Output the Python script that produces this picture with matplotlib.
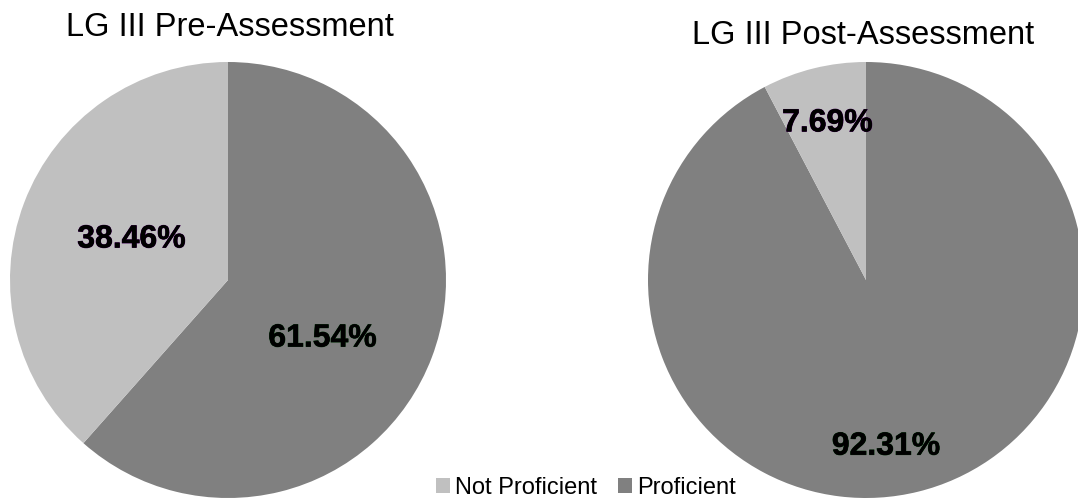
import numpy as np
import matplotlib.pyplot as plt
import matplotlib.patheffects as pe

# Data
categories = ["Proficient", "Not Proficient"]
pre_values = [61.54, 38.46]
post_values = [92.31, 7.69]
titles = ["LG III Pre-Assessment", "LG III Post-Assessment"]
legend_labels = ["Not Proficient", "Proficient"]

colors = ["#808080", "#C0C0C0"]
outline = ["#0B3D12", "#45005A"]

plt.rcParams['font.family'] = ['Liberation Sans', 'DejaVu Sans']

fig = plt.figure(figsize=(10.78, 5.0), dpi=100)
W, H = 1078, 500

# pie axes placed in pixel units (left, bottom of square box)
ax_pre = fig.add_axes([10 / W, 2 / H, 436 / W, 436 / H])
ax_post = fig.add_axes([648 / W, 2 / H, 436 / W, 436 / H])

# label placement: (radius fraction, angle shift in degrees) per wedge
label_place = {
    "pre": [(0.51, -11), (0.48, -2)],
    "post": [(0.77, -7), (0.74, 0)],
}

wedge_sets = []
for key, ax, vals in [("pre", ax_pre, pre_values), ("post", ax_post, post_values)]:
    wedges, texts, autotexts = ax.pie(
        vals, colors=colors, startangle=90, counterclock=False,
        autopct=lambda p: "%.2f%%" % p,
        wedgeprops=dict(linewidth=0), radius=1.0)
    for wdg, t, oc, (rf, dang) in zip(wedges, autotexts, outline, label_place[key]):
        ang = np.deg2rad((wdg.theta1 + wdg.theta2) / 2 + dang)
        t.set_position((rf * np.cos(ang), rf * np.sin(ang)))
        t.set_fontsize(23)
        t.set_fontweight("bold")
        t.set_color("black")
        t.set_path_effects([pe.withStroke(linewidth=0.6, foreground=oc), pe.Normal()])
    ax.set_xlim(-1, 1)
    ax.set_ylim(-1, 1)
    ax.set_aspect("equal")
    ax.axis("off")
    wedge_sets.append(wedges)

# titles
fig.text(230 / W, 1 - 28 / H, titles[0], ha="center", va="center", fontsize=23.5)
fig.text(863 / W, 1 - 35 / H, titles[1], ha="center", va="center", fontsize=23.5)

# legend
w = wedge_sets[0]
fig.legend([w[1], w[0]], legend_labels, ncol=2, loc="center",
           bbox_to_anchor=(586 / W, 1 - 488 / H), frameon=False,
           fontsize=17, handlelength=0.6, handleheight=0.6,
           handletextpad=0.2, columnspacing=0.9, borderpad=0, borderaxespad=0)

fig.savefig("out.png", dpi=100)
